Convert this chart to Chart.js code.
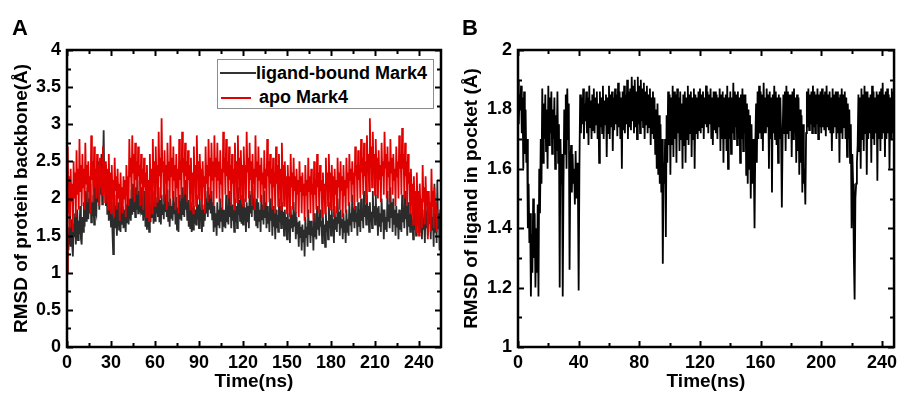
<!DOCTYPE html>
<html>
<head>
<meta charset="utf-8">
<script src="https://cdn.jsdelivr.net/npm/chart.js@4.4.1/dist/chart.umd.min.js"></script>
<style>
  body { margin: 0; background: #fff; width: 902px; height: 394px; overflow: hidden; position: relative;
         font-family: "Liberation Sans", Arial, sans-serif; }
  canvas { position: absolute; top: 0; }
  #chartA { left: 0; }
  #chartB { left: 450px; }
  .tag { position: absolute; font-weight: bold; font-size: 22px; line-height: 1; }
  .legend { position: absolute; left: 217px; top: 59px; width: 215px; height: 48px; border: 1px solid #8c8c8c; background: #fff; }
  .legend .ln { position: absolute; height: 1.5px; }
  .legend .tx { position: absolute; font-weight: bold; font-size: 18px; line-height: 1; white-space: nowrap; }
</style>
</head>
<body>
<canvas id="chartA" width="450" height="394"></canvas>
<canvas id="chartB" width="452" height="394"></canvas>
<div class="tag" style="left:12px;top:17px">A</div>
<div class="tag" style="left:462px;top:17px">B</div>
<div class="legend">
  <div class="ln" style="left:2px;top:12px;width:36px;background:#333"></div>
  <div class="tx" style="left:38px;top:4px">ligand-bound Mark4</div>
  <div class="ln" style="left:3px;top:37px;width:30px;background:#e00000"></div>
  <div class="tx" style="left:41px;top:28px">apo Mark4</div>
</div>
<script>
// panel A: backbone RMSD, one value every 0.5 ns (rows of 10 ns)
const stepA = 0.5;
const boundA = [
  1.00, 1.45, 1.30, 1.62, 1.50, 1.35, 1.72, 1.40, 1.22, 1.66, 1.48, 1.80, 1.38, 1.58, 1.85, 1.44, 1.70, 1.52, 1.90, 1.46,
  1.38, 1.75, 1.55, 1.95, 1.62, 2.10, 1.70, 1.88, 2.15, 1.72, 2.00, 1.80, 2.20, 1.68, 1.95, 1.76, 2.05, 1.65, 2.30, 1.85,
  1.80, 2.20, 1.95, 2.50, 1.85, 2.35, 2.05, 2.60, 1.92, 2.40, 2.92, 2.10, 2.45, 1.90, 2.25, 1.78, 2.40, 1.70, 2.10, 1.85,
  1.62, 1.95, 1.55, 1.25, 1.70, 2.05, 1.60, 1.90, 1.50, 1.82, 1.95, 1.58, 1.88, 1.55, 2.00, 1.66, 1.90, 1.60, 1.85, 1.72,
  1.55, 1.92, 1.68, 2.05, 1.65, 1.88, 2.00, 1.70, 2.12, 1.78, 2.20, 1.82, 2.05, 1.75, 2.15, 1.85, 2.25, 1.80, 2.10, 1.90,
  1.85, 2.15, 1.78, 2.05, 1.70, 1.95, 2.10, 1.62, 1.90, 1.58, 1.98, 1.72, 1.55, 1.92, 1.68, 2.05, 1.75, 1.96, 1.66, 2.10,
  1.70, 2.02, 1.80, 1.95, 1.75, 2.15, 1.68, 1.98, 1.65, 2.05, 1.78, 1.92, 1.72, 2.20, 1.82, 2.05, 1.75, 2.12, 1.70, 1.95,
  1.62, 2.00, 1.74, 1.90, 1.70, 2.10, 1.80, 1.95, 1.65, 2.02, 1.58, 1.88, 1.55, 2.05, 1.72, 1.96, 1.70, 2.15, 1.78, 2.00,
  1.75, 2.25, 1.85, 2.05, 1.70, 1.98, 1.62, 1.92, 1.60, 1.95, 1.55, 1.88, 1.58, 1.90, 1.66, 1.85, 1.65, 2.05, 1.72, 1.92,
  1.60, 2.00, 1.70, 1.85, 1.55, 1.92, 1.62, 1.85, 1.70, 2.10, 1.80, 2.00, 1.75, 2.15, 1.85, 2.05, 1.80, 2.10, 1.72, 1.95,
  1.55, 1.90, 1.62, 1.80, 1.50, 1.95, 1.65, 1.85, 1.60, 2.00, 1.70, 1.88, 1.55, 1.85, 1.62, 1.78, 1.60, 2.05, 1.68, 1.90,
  1.65, 2.10, 1.75, 1.95, 1.60, 1.92, 1.70, 1.85, 1.55, 2.00, 1.68, 1.90, 1.60, 2.15, 1.78, 1.98, 1.70, 2.05, 1.66, 1.92,
  1.65, 2.00, 1.72, 1.88, 1.55, 1.95, 1.68, 1.90, 1.60, 2.10, 1.80, 2.05, 1.75, 2.20, 1.85, 2.00, 1.70, 1.95, 1.64, 2.00,
  1.60, 1.95, 1.70, 1.85, 1.55, 2.05, 1.72, 1.92, 1.65, 2.10, 1.75, 1.95, 1.60, 1.90, 1.66, 1.82, 1.55, 2.00, 1.70, 1.88,
  1.50, 1.90, 1.62, 1.80, 1.45, 1.85, 1.60, 1.78, 1.55, 2.00, 1.68, 1.90, 1.60, 1.95, 1.65, 1.82, 1.50, 1.85, 1.58, 1.75,
  1.45, 1.80, 1.55, 1.72, 1.40, 1.90, 1.60, 1.78, 1.55, 1.95, 1.62, 1.82, 1.45, 1.75, 1.52, 1.68, 1.35, 1.70, 1.48, 1.62,
  1.30, 1.65, 1.42, 1.58, 1.22, 1.75, 1.48, 1.62, 1.35, 1.85, 1.52, 1.70, 1.40, 1.70, 1.50, 1.62, 1.30, 1.80, 1.48, 1.66,
  1.45, 1.90, 1.58, 1.75, 1.50, 1.85, 1.62, 1.70, 1.40, 1.75, 1.52, 1.65, 1.35, 1.80, 1.55, 1.70, 1.45, 1.95, 1.60, 1.78,
  1.50, 1.85, 1.62, 1.72, 1.40, 1.90, 1.58, 1.75, 1.55, 2.00, 1.66, 1.82, 1.50, 1.85, 1.60, 1.72, 1.45, 1.80, 1.55, 1.70,
  1.40, 1.85, 1.55, 1.72, 1.50, 1.95, 1.65, 1.80, 1.55, 2.05, 1.70, 1.88, 1.60, 1.90, 1.68, 1.80, 1.50, 1.95, 1.62, 1.85,
  1.55, 2.00, 1.70, 1.85, 1.60, 2.10, 1.75, 1.92, 1.65, 2.05, 1.72, 1.90, 1.55, 1.95, 1.68, 1.82, 1.60, 2.10, 1.74, 1.90,
  1.65, 2.05, 1.72, 1.88, 1.50, 1.90, 1.62, 1.80, 1.55, 2.00, 1.68, 1.85, 1.45, 1.85, 1.58, 1.75, 1.55, 2.10, 1.70, 1.92,
  1.60, 2.15, 1.75, 1.95, 1.55, 2.00, 1.66, 1.85, 1.50, 1.90, 1.62, 1.80, 1.45, 1.85, 1.58, 1.72, 1.55, 2.05, 1.68, 1.88,
  1.60, 2.10, 1.72, 1.90, 1.50, 1.95, 1.62, 1.80, 1.55, 1.80, 1.60, 1.72, 1.45, 1.90, 1.58, 1.75, 1.50, 2.00, 1.64, 1.85,
  1.55, 1.95, 1.66, 1.80, 1.45, 1.85, 1.58, 1.72, 1.40, 2.00, 1.60, 1.82, 1.50, 2.10, 1.66, 1.85, 1.45, 1.90, 1.58, 1.75,
  1.35, 2.20, 1.55, 1.90, 1.40, 2.25, 1.60, 1.80, 1.30, 1.85, 1.45, 1.70
];
const apoA = [
  1.00, 2.70, 1.80, 2.30, 1.60, 2.40, 1.95, 2.20, 1.55, 2.50, 2.00, 2.35, 1.75, 2.65, 2.05, 2.40, 1.85, 2.80, 2.10, 2.45,
  1.90, 2.60, 2.15, 2.40, 1.85, 2.75, 2.20, 2.45, 1.95, 2.50, 2.10, 2.30, 1.80, 2.85, 2.25, 2.50, 1.95, 2.70, 2.15, 2.40,
  2.00, 2.60, 2.20, 2.45, 1.90, 2.55, 2.15, 2.35, 2.05, 2.70, 2.25, 2.50, 1.95, 2.50, 2.10, 2.30, 1.85, 2.60, 2.05, 2.35,
  1.80, 2.45, 2.05, 2.25, 1.75, 2.55, 2.10, 2.30, 1.85, 2.40, 2.00, 2.20, 1.70, 2.35, 1.95, 2.15, 1.80, 2.30, 2.00, 2.25,
  1.75, 2.45, 2.05, 2.30, 1.90, 2.80, 2.30, 2.55, 2.00, 2.85, 2.35, 2.60, 1.95, 2.75, 2.25, 2.50, 2.05, 2.70, 2.30, 2.45,
  1.90, 2.60, 2.20, 2.40, 1.85, 2.55, 2.15, 2.35, 1.75, 2.45, 2.05, 2.25, 1.70, 2.60, 2.10, 2.40, 1.80, 2.80, 2.25, 2.50,
  1.90, 2.70, 2.25, 2.45, 1.95, 2.90, 2.30, 2.55, 2.00, 3.08, 2.35, 2.50, 1.95, 2.65, 2.20, 2.45, 1.85, 2.75, 2.25, 2.50,
  1.90, 2.85, 2.30, 2.55, 2.00, 2.70, 2.25, 2.45, 1.85, 2.60, 2.15, 2.40, 1.80, 2.80, 2.25, 2.50, 2.00, 2.90, 2.35, 2.55,
  2.05, 2.75, 2.30, 2.50, 1.95, 2.65, 2.25, 2.45, 1.85, 2.55, 2.10, 2.35, 1.80, 2.70, 2.20, 2.45, 1.90, 2.85, 2.30, 2.50,
  2.00, 2.60, 2.25, 2.40, 1.85, 2.50, 2.15, 2.30, 1.80, 2.70, 2.20, 2.45, 1.95, 2.80, 2.30, 2.55, 2.00, 2.75, 2.25, 2.50,
  1.90, 2.85, 2.30, 2.55, 2.00, 2.75, 2.25, 2.50, 1.95, 2.65, 2.20, 2.40, 1.85, 2.90, 2.35, 2.55, 2.05, 2.80, 2.30, 2.50,
  2.00, 2.70, 2.25, 2.45, 1.90, 2.60, 2.20, 2.40, 1.85, 2.75, 2.25, 2.50, 1.95, 2.85, 2.30, 2.55, 2.00, 2.65, 2.25, 2.45,
  1.90, 2.70, 2.25, 2.45, 1.95, 2.90, 2.35, 2.55, 2.00, 2.75, 2.25, 2.50, 1.90, 2.60, 2.20, 2.40, 1.85, 2.85, 2.30, 2.50,
  2.00, 2.70, 2.25, 2.45, 1.95, 2.55, 2.20, 2.35, 1.85, 2.65, 2.15, 2.40, 1.90, 2.80, 2.30, 2.50, 1.95, 2.60, 2.20, 2.40,
  1.85, 2.55, 2.15, 2.35, 1.80, 2.70, 2.20, 2.45, 1.90, 2.60, 2.15, 2.40, 1.85, 2.75, 2.25, 2.45, 1.90, 2.50, 2.15, 2.30,
  1.80, 2.45, 2.10, 2.30, 1.75, 2.60, 2.15, 2.35, 1.85, 2.55, 2.10, 2.30, 1.80, 2.40, 2.05, 2.25, 1.75, 2.50, 2.10, 2.30,
  1.80, 2.35, 2.05, 2.20, 1.70, 2.45, 2.05, 2.25, 1.75, 2.55, 2.10, 2.30, 1.80, 2.40, 2.05, 2.20, 1.70, 2.50, 2.05, 2.25,
  1.85, 2.60, 2.15, 2.35, 1.80, 2.45, 2.10, 2.25, 1.75, 2.35, 2.00, 2.20, 1.80, 2.55, 2.15, 2.35, 1.90, 2.60, 2.20, 2.35,
  1.85, 2.45, 2.10, 2.30, 1.75, 2.40, 2.05, 2.25, 1.80, 2.55, 2.15, 2.35, 1.85, 2.50, 2.10, 2.30, 1.75, 2.45, 2.05, 2.25,
  1.80, 2.55, 2.15, 2.35, 1.90, 2.60, 2.25, 2.40, 1.95, 2.50, 2.20, 2.35, 1.85, 2.70, 2.30, 2.45, 1.95, 2.65, 2.25, 2.45,
  2.00, 2.80, 2.35, 2.55, 2.05, 2.75, 2.30, 2.50, 1.95, 2.85, 2.40, 2.60, 2.10, 3.08, 2.50, 2.70, 2.15, 2.90, 2.40, 2.60,
  2.05, 2.80, 2.35, 2.55, 2.00, 2.65, 2.25, 2.45, 1.95, 2.75, 2.30, 2.50, 2.05, 2.90, 2.40, 2.60, 2.00, 2.70, 2.30, 2.50,
  1.95, 2.80, 2.35, 2.55, 2.05, 2.60, 2.25, 2.40, 1.90, 2.70, 2.30, 2.50, 2.00, 2.85, 2.40, 2.60, 2.05, 2.95, 2.40, 2.60,
  2.00, 2.75, 2.30, 2.50, 1.90, 2.60, 2.20, 2.35, 1.80, 2.40, 2.05, 2.20, 1.65, 2.30, 1.95, 2.10, 1.55, 2.35, 1.90, 2.10,
  1.50, 2.20, 1.85, 2.00, 1.60, 2.45, 1.95, 2.15, 1.65, 2.30, 1.90, 2.10, 1.45, 2.10, 1.80, 1.95, 1.55, 2.40, 1.90, 2.10,
  1.60, 2.15, 1.80, 1.95, 1.55, 1.85
];
const xTicksA = [0, 30, 60, 90, 120, 150, 180, 210, 240];
const yTicksA = [0, 0.5, 1, 1.5, 2, 2.5, 3, 3.5, 4];

// panel B: ligand RMSD in pocket, one value every 0.5 ns (rows of 10 ns)
const stepB = 0.5;
const ligandB = [
  1.90, 1.75, 1.85, 1.80, 1.88, 1.72, 1.84, 1.60, 1.86, 1.65, 1.80, 1.62, 1.70, 1.40, 1.55, 1.35, 1.45, 1.17, 1.38, 1.25,
  1.50, 1.30, 1.45, 1.20, 1.40, 1.25, 1.48, 1.17, 1.60, 1.45, 1.70, 1.55, 1.87, 1.62, 1.82, 1.70, 1.85, 1.66, 1.80, 1.60,
  1.88, 1.68, 1.84, 1.72, 1.86, 1.65, 1.80, 1.70, 1.84, 1.60, 1.78, 1.66, 1.86, 1.62, 1.75, 1.20, 1.70, 1.55, 1.65, 1.17,
  1.55, 1.80, 1.65, 1.85, 1.60, 1.87, 1.70, 1.82, 1.26, 1.60, 1.68, 1.52, 1.65, 1.55, 1.60, 1.48, 1.66, 1.50, 1.62, 1.55,
  1.19, 1.60, 1.85, 1.72, 1.84, 1.75, 1.87, 1.70, 1.82, 1.76, 1.86, 1.72, 1.84, 1.68, 1.88, 1.74, 1.83, 1.70, 1.85, 1.73,
  1.87, 1.72, 1.84, 1.75, 1.86, 1.70, 1.82, 1.62, 1.86, 1.74, 1.84, 1.72, 1.88, 1.70, 1.83, 1.75, 1.85, 1.64, 1.84, 1.72,
  1.88, 1.70, 1.85, 1.74, 1.86, 1.66, 1.84, 1.73, 1.87, 1.75, 1.85, 1.71, 1.89, 1.74, 1.86, 1.70, 1.84, 1.60, 1.86, 1.73,
  1.88, 1.72, 1.85, 1.75, 1.90, 1.70, 1.86, 1.74, 1.87, 1.73, 1.91, 1.76, 1.88, 1.72, 1.90, 1.74, 1.86, 1.70, 1.91, 1.75,
  1.88, 1.72, 1.90, 1.76, 1.87, 1.74, 1.89, 1.70, 1.86, 1.75, 1.88, 1.72, 1.85, 1.74, 1.87, 1.68, 1.84, 1.72, 1.86, 1.70,
  1.84, 1.65, 1.80, 1.60, 1.82, 1.58, 1.78, 1.55, 1.75, 1.52, 1.70, 1.28, 1.62, 1.55, 1.70, 1.37, 1.78, 1.62, 1.86, 1.68,
  1.85, 1.58, 1.84, 1.68, 1.88, 1.64, 1.86, 1.70, 1.85, 1.62, 1.87, 1.72, 1.84, 1.66, 1.86, 1.70, 1.82, 1.60, 1.85, 1.68,
  1.86, 1.62, 1.84, 1.70, 1.88, 1.68, 1.85, 1.72, 1.86, 1.64, 1.84, 1.70, 1.87, 1.60, 1.85, 1.72, 1.84, 1.70, 1.86, 1.73,
  1.87, 1.72, 1.85, 1.74, 1.86, 1.70, 1.84, 1.75, 1.88, 1.74, 1.86, 1.72, 1.85, 1.75, 1.87, 1.70, 1.84, 1.68, 1.86, 1.73,
  1.86, 1.72, 1.85, 1.70, 1.84, 1.74, 1.87, 1.66, 1.85, 1.70, 1.86, 1.62, 1.84, 1.70, 1.85, 1.66, 1.88, 1.60, 1.84, 1.70,
  1.86, 1.65, 1.84, 1.72, 1.89, 1.70, 1.86, 1.74, 1.85, 1.68, 1.86, 1.70, 1.84, 1.62, 1.85, 1.70, 1.87, 1.66, 1.85, 1.72,
  1.85, 1.58, 1.82, 1.55, 1.80, 1.60, 1.78, 1.50, 1.75, 1.55, 1.70, 1.62, 1.40, 1.68, 1.82, 1.62, 1.86, 1.70, 1.88, 1.72,
  1.86, 1.70, 1.85, 1.66, 1.89, 1.72, 1.84, 1.72, 1.87, 1.74, 1.85, 1.60, 1.86, 1.70, 1.84, 1.52, 1.85, 1.72, 1.88, 1.70,
  1.86, 1.68, 1.84, 1.62, 1.85, 1.70, 1.84, 1.72, 1.47, 1.70, 1.85, 1.72, 1.86, 1.66, 1.88, 1.72, 1.86, 1.70, 1.85, 1.73,
  1.85, 1.64, 1.86, 1.70, 1.87, 1.72, 1.84, 1.62, 1.85, 1.66, 1.84, 1.58, 1.80, 1.62, 1.78, 1.52, 1.75, 1.55, 1.60, 1.48,
  1.72, 1.86, 1.74, 1.87, 1.73, 1.85, 1.75, 1.86, 1.72, 1.88, 1.74, 1.86, 1.72, 1.85, 1.75, 1.87, 1.70, 1.85, 1.74, 1.86,
  1.72, 1.87, 1.74, 1.85, 1.73, 1.86, 1.71, 1.88, 1.74, 1.85, 1.73, 1.86, 1.72, 1.84, 1.66, 1.87, 1.72, 1.85, 1.74, 1.86,
  1.70, 1.86, 1.72, 1.84, 1.62, 1.85, 1.72, 1.87, 1.70, 1.85, 1.74, 1.86, 1.70, 1.84, 1.64, 1.82, 1.70, 1.80, 1.62, 1.75,
  1.40, 1.65, 1.55, 1.30, 1.16, 1.50, 1.55, 1.62, 1.68, 1.85, 1.66, 1.84, 1.60, 1.87, 1.70, 1.85, 1.66, 1.88, 1.72, 1.86,
  1.58, 1.86, 1.70, 1.84, 1.72, 1.85, 1.62, 1.88, 1.70, 1.86, 1.68, 1.84, 1.72, 1.86, 1.56, 1.85, 1.70, 1.86, 1.66, 1.87,
  1.70, 1.89, 1.72, 1.85, 1.64, 1.86, 1.70, 1.87, 1.72, 1.85, 1.60, 1.84, 1.70, 1.87, 1.72, 1.86, 1.70
];
const xTicksB = [0, 40, 80, 120, 160, 200, 240];
const yTicksB = [1, 1.2, 1.4, 1.6, 1.8, 2];

const FONT = "'Liberation Sans', Arial, sans-serif";

function toPoints(values, step) {
  return values.map((v, i) => ({ x: i * step, y: v }));
}

// closed box with inward major/minor ticks on all four sides
const framePlugin = {
  id: "frame",
  afterDatasetsDraw(chart) {
    const { ctx, chartArea: a, scales } = chart;
    const xs = scales.x, ys = scales.y;
    const opts = chart.options.plugins.frame;
    ctx.save();
    ctx.strokeStyle = "#000";
    ctx.lineWidth = 2;
    const minors = (vals, max) => {
      const out = [];
      for (let i = 0; i < vals.length; i++) {
        const next = i + 1 < vals.length ? vals[i + 1] : vals[i] + (vals[i] - vals[i - 1]);
        const mid = (vals[i] + next) / 2;
        if (mid < max) out.push(mid);
      }
      return out;
    };
    const tickX = (vals, len) => {
      vals.forEach((v) => {
        const px = Math.round(xs.getPixelForValue(v)) + 0.5;
        ctx.beginPath();
        ctx.moveTo(px, a.bottom); ctx.lineTo(px, a.bottom - len);
        ctx.moveTo(px, a.top); ctx.lineTo(px, a.top + len);
        ctx.stroke();
      });
    };
    const tickY = (vals, len) => {
      vals.forEach((v) => {
        const py = Math.round(ys.getPixelForValue(v)) + 0.5;
        ctx.beginPath();
        ctx.moveTo(a.left, py); ctx.lineTo(a.left + len, py);
        ctx.moveTo(a.right, py); ctx.lineTo(a.right - len, py);
        ctx.stroke();
      });
    };
    tickX(opts.xTicks, 6);
    tickX(minors(opts.xTicks, xs.max), 4);
    tickY(opts.yTicks, 6);
    tickY(minors(opts.yTicks, ys.max), 4);
    ctx.lineWidth = 2.5;
    ctx.strokeRect(a.left, a.top, a.right - a.left, a.bottom - a.top);
    ctx.restore();
  },
};

function makeChart(el, datasets, cfg) {
  return new Chart(el, {
    type: "line",
    data: { datasets },
    plugins: [framePlugin],
    options: {
      responsive: false,
      animation: false,
      devicePixelRatio: 1,
      layout: { padding: { top: 50, right: cfg.padRight, left: 0, bottom: 0 } },
      elements: { point: { radius: 0 }, line: { borderWidth: 1.8, tension: 0, borderJoinStyle: "miter" } },
      plugins: {
        legend: { display: false },
        tooltip: { enabled: false },
        frame: { xTicks: cfg.xTicks, yTicks: cfg.yTicks },
      },
      scales: {
        x: {
          type: "linear",
          min: 0,
          max: cfg.xMax,
          afterBuildTicks: (s) => { s.ticks = cfg.xTicks.map((v) => ({ value: v })); },
          afterFit: (s) => { s.height = 47; },
          grid: { display: false, drawTicks: false },
          border: { display: false },
          ticks: { color: "#000", padding: 5, maxRotation: 0, callback: (v) => String(v),
                   font: { family: FONT, size: 18, weight: "bold" } },
          title: {
            display: true, text: "Time(ns)", color: "#000",
            padding: { top: 0, bottom: 1 },
            font: { family: FONT, size: 19, weight: "bold", lineHeight: 1.2 },
          },
        },
        y: {
          min: cfg.yMin,
          max: cfg.yMax,
          afterBuildTicks: (s) => { s.ticks = cfg.yTicks.map((v) => ({ value: v })); },
          afterFit: (s) => { s.width = cfg.yWidth; },
          grid: { display: false, drawTicks: false },
          border: { display: false },
          ticks: { color: "#000", padding: 6, callback: (v) => String(v),
                   font: { family: FONT, size: 18, weight: "bold" } },
          title: {
            display: true, text: cfg.yTitle, color: "#000",
            padding: { top: 10, bottom: 0 },
            font: { family: FONT, size: 19, weight: "bold", lineHeight: 1.2 },
          },
        },
      },
    },
  });
}

makeChart(document.getElementById("chartA"), [
  { label: "apo Mark4", data: toPoints(apoA, stepA), borderColor: "#e00000", order: 0 },
  { label: "ligand-bound Mark4", data: toPoints(boundA, stepA), borderColor: "#2b2b2b", order: 1 },
], { xMax: 255, yMin: 0, yMax: 4, xTicks: xTicksA, yTicks: yTicksA, yWidth: 67, padRight: 9,
     yTitle: "RMSD of protein backbone(Å)" });

makeChart(document.getElementById("chartB"), [
  { label: "ligand", data: toPoints(ligandB, stepB), borderColor: "#000" },
], { xMax: 248, yMin: 1, yMax: 2, xTicks: xTicksB, yTicks: yTicksB, yWidth: 68, padRight: 2,
     yTitle: "RMSD of ligand in pocket (Å)" });
</script>
</body>
</html>
